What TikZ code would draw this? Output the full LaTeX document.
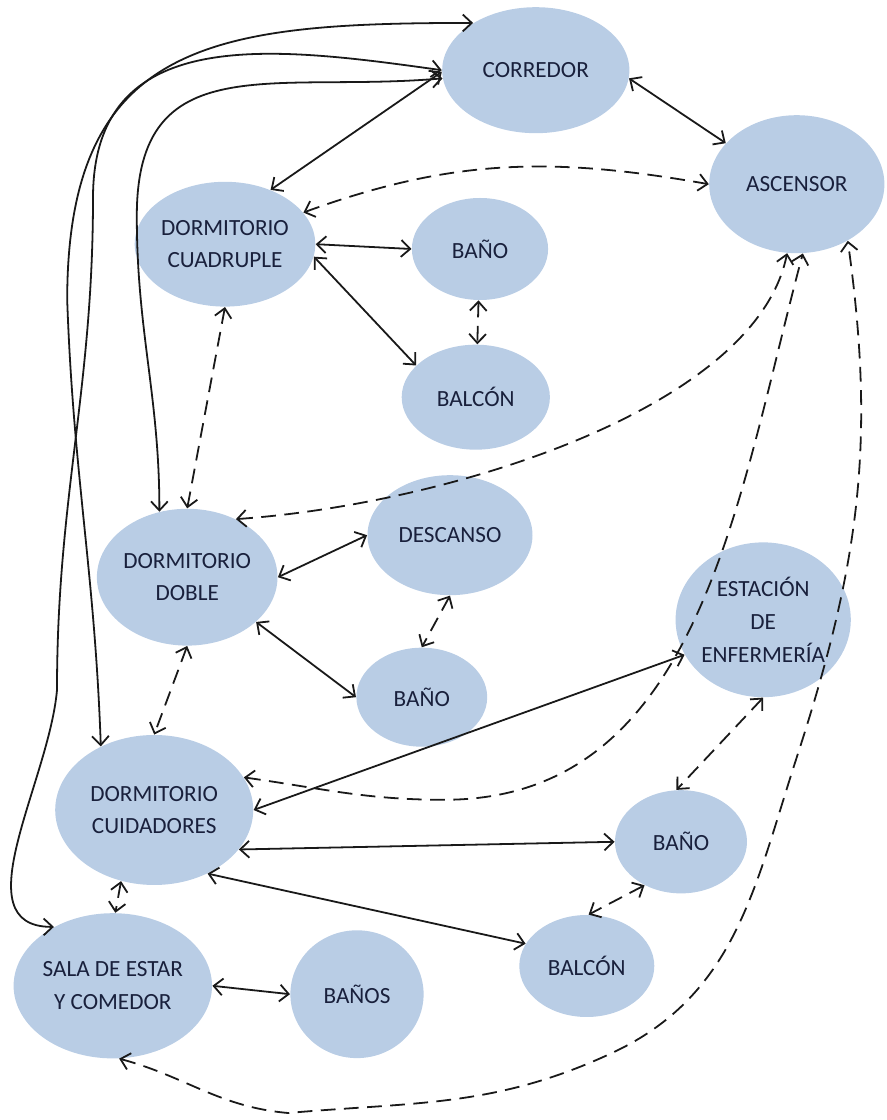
\documentclass[tikz,border=0pt]{standalone}
\usepackage{fontspec}
\setmainfont{Carlito}
\usepackage{tikz}
\usetikzlibrary{arrows.meta,shapes.geometric}
\definecolor{roomfill}{RGB}{185,205,229}
\definecolor{roomtext}{RGB}{25,32,60}

\begin{document}
\begin{tikzpicture}[
  room/.style={ellipse,fill=roomfill,align=center,inner sep=0pt,
              text=roomtext,font=\fontsize{11}{15.5}\selectfont},
  flow/.style={{Straight Barb[length=1.5mm,width=2.8mm]}-{Straight Barb[length=1.5mm,width=2.8mm]},
              line width=0.85pt,draw=black!90},
  link/.style={flow,dash pattern=on 7pt off 4pt}
]
\useasboundingbox (0,0) rectangle (14.783,-18.667);
\node[room,minimum width=31.2mm,minimum height=21mm] (corredor) at (8.93,-1.17) {CORREDOR};
\node[room,minimum width=29.2mm,minimum height=23mm] (ascensor) at (13.28,-3.07) {ASCENSOR};
\node[room,minimum width=30mm,minimum height=20.8mm] (cuad) at (3.75,-4.07)
  {DORMITORIO\\CUADRUPLE};
\node[room,minimum width=22.7mm,minimum height=17mm] (bano1) at (8.0,-4.15) {BAÑO};
\node[room,minimum width=24.7mm,minimum height=17.5mm] (balcon1) at (7.93,-6.62) {BALCÓN};
\node[room,minimum width=28.8mm,minimum height=22.8mm] (doble) at (3.12,-9.62)
  {DORMITORIO\\DOBLE};
\node[room,minimum width=27.5mm,minimum height=20mm] (descanso) at (7.5,-8.92) {DESCANSO};
\node[room,minimum width=21.8mm,minimum height=16.5mm] (bano2) at (7.03,-11.62) {BAÑO};
\node[room,minimum width=27.2mm,minimum height=25.8mm] (estacion) at (12.72,-10.33)
  {ESTACIÓN\\DE\\ENFERMERÍA};
\node[room,minimum width=33mm,minimum height=25mm] (cuid) at (2.57,-13.5)
  {DORMITORIO\\CUIDADORES};
\node[room,minimum width=22mm,minimum height=17.2mm] (bano3) at (11.35,-14.03) {BAÑO};
\node[room,minimum width=22.5mm,minimum height=17mm] (balcon2) at (9.78,-16.1) {BALCÓN};
\node[room,minimum width=31.7mm,minimum height=24.2mm] (sala) at (1.88,-16.43)
  {SALA DE ESTAR\\Y COMEDOR};
\node[room,minimum width=22.2mm,minimum height=21.3mm] (banos) at (5.95,-16.57) {BAÑOS};
\draw[flow] (corredor.-5) -- (ascensor.150);
\draw[flow] (corredor.181) -- (cuad.50);
\draw[flow] (corredor.143) to[out=180,in=90,looseness=1.35] (1.12,-5)
  to[out=-88,in=92] (cuid.130);
\draw[flow] (corredor.180) to[out=172,in=90,looseness=1.2] (1.55,-3.3)
  to[out=-90,in=90] (0.95,-11.5) to[out=-95,in=180] (sala.135);
\draw[flow] (corredor.185) to[out=185,in=90,looseness=1.3] (2.28,-3.6)
  to[out=-90,in=90] (doble.113);
\draw[flow] (cuad.east) -- (bano1.west);
\draw[flow] (cuad.-8) -- (balcon1.152);
\draw[flow] (doble.east) -- (descanso.west);
\draw[flow] (doble.-33) -- (bano2.west);
\draw[flow] (cuid.east) -- (estacion.204);
\draw[flow] (cuid.-25) -- (bano3.west);
\draw[flow] (cuid.-50) -- (balcon2.160);
\draw[flow] (sala.east) -- (banos.west);
\draw[link] (cuad.22) to[out=20,in=170] (ascensor.west);
\draw[link] (bano1) -- (balcon1);
\draw[link] (cuad.south) -- (doble.north);
\draw[link] (doble.50) .. controls (7.5,-8.4) and (12.6,-6.8) .. (ascensor.-98);
\draw[link] (descanso.south) -- (bano2.north);
\draw[link] (doble.south) -- (cuid.north);
\draw[link] (cuid.20) to[out=-8,in=180] (7.4,-13.33) to[out=0,in=-105] (ascensor.-85);
\draw[link] (sala.-85) to[out=-15,in=175] (4.8,-18.55) to[out=5,in=205] (10.2,-17.55)
  to[out=25,in=-108] (13.28,-12.62) to[out=72,in=-82] (ascensor.-48);
\draw[link] (estacion.-90) -- (bano3.95);
\draw[link] (bano3.-130) -- (balcon2.88);
\draw[link] (cuid.-115) -- (sala.88);
\end{tikzpicture}
\end{document}
